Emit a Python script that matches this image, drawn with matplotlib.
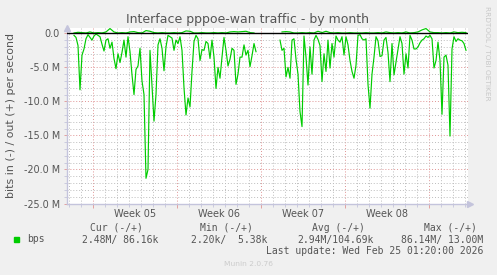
import numpy as np
import matplotlib
matplotlib.use("Agg")
import matplotlib.pyplot as plt
from matplotlib.ticker import MultipleLocator, FixedLocator
from matplotlib.patches import Rectangle
import matplotlib.transforms as mtrans

# traffic samples in Mbit/s, download shown negative (in), upload positive (out)
# one sample every 4 hours, starting shortly after the left edge of the graph
dl_start_day = 7 / 12
dl_step_day = 1 / 6
download = [
    -0.3, -0.6, -1.8, -8.3, -3.2, -2.3, -0.8, -0.2, -0.6, -1.0,
    -0.4, -0.1, -0.3, -0.5, -1.6, -2.6, -1.0, -0.8, -2.2, -1.3,
    -3.7, -5.2, -3.0, -4.3, -2.8, -1.0, -3.5, -0.5, -2.7, -6.1,
    -9.0, -5.3, -4.8, -2.2, -7.0, -9.0, -21.3, -20.0, -2.5, -7.6,
    -12.9, -9.0, -1.7, -0.8, -2.2, -5.5, -2.0, -0.3, -0.5, -0.7,
    -2.5, -1.0, -1.5, -0.5, -2.5, -8.0, -12.0, -9.5, -10.8, -5.6,
    -1.2, -0.3, -0.8, -4.0, -2.4, -2.5, -1.2, -1.5, -3.7, -1.0,
    -3.5, -8.1, -5.0, -6.6, -3.5, -0.6, -2.5, -4.8, -3.8, -2.2,
    -2.5, -7.5, -6.0, -3.5, -3.5, -1.7, -3.2, -2.5, -4.9, -3.3,
    -1.5, -2.7, np.nan, np.nan, np.nan, np.nan, np.nan, np.nan, np.nan, np.nan,
    np.nan, np.nan, np.nan, -1.0, -2.5, -2.2, -6.4, -5.0, -6.6, -1.0,
    -0.8, -3.8, -6.0, -11.5, -13.7, -0.4, -3.5, -7.6, -2.0, -6.0,
    -1.0, -0.3, -0.9, -1.8, -7.1, -3.0, -5.6, -1.0, -5.1, -1.5,
    -3.5, -0.4, -1.0, -1.3, -0.5, -3.2, -0.5, -1.7, -4.0, -5.6,
    -6.6, -4.7, -0.3, -0.2, -0.8, -1.0, -0.8, -7.5, -11.0, -6.0,
    -3.5, -0.5, -1.1, -3.4, -3.3, -1.0, -0.6, -2.8, -7.1, -1.5,
    -6.1, -4.2, -2.2, -0.5, -1.5, -6.0, -3.0, -5.1, -0.3, -1.0,
    -2.3, -2.3, -2.0, -1.4, -1.0, -0.8, -0.4, -0.6, -0.3, -0.8,
    -5.1, -4.0, -1.3, -4.0, -11.9, -3.5, -3.2, -4.7, -15.1, -2.3,
    -0.5, -1.2, -0.8, -1.0, -1.1, -1.5, -2.5,
]

# upload, one sample every 8 hours
ul_start_day = 7 / 12
ul_step_day = 1 / 3
upload = [
    0.05, 0.15, 0.1, 0.05, 0.2, 0.05, 0.1, 0.05, 0.2, 0.7,
    0.2, 0.05, 0.1, 0.05, 0.2, 0.25, 0.1, 0.05, 0.4, 0.3,
    0.1, 0.05, 0.1, 0.05, 0.05, 0.1, 0.05, 0.1, 0.35, 0.3,
    0.05, 0.05, 0.1, 0.05, 0.05, 0.1, 0.05, 0.1, 0.05, 0.2,
    0.25, 0.2, 0.25, 0.3, 0.1, 0.05, np.nan, np.nan, np.nan, np.nan,
    np.nan, np.nan, 0.2, 0.25, 0.2, 0.05, 0.05, 0.1, 0.05, 0.1,
    0.05, 0.3, 0.1, 0.3, 0.1, 0.05, 0.1, 0.05, 0.05, 0.1,
    0.05, 0.05, 0.05, 0.1, 0.05, 0.05, 0.1, 0.05, 0.2, 0.1,
    0.05, 0.1, 0.05, 0.2, 0.05, 0.1, 0.2, 0.5, 0.7, 0.2,
    0.1, 0.1, 0.05, 0.1, 0.05, 0.2, 0.1, 0.15, 0.1,
]

week_labels = ["Week 05", "Week 06", "Week 07", "Week 08"]
first_week_day = 26 / 12  # first week boundary, days from left edge

legend_headers = ["Cur (-/+)", "Min (-/+)", "Avg (-/+)", "Max (-/+)"]
legend_values = ["2.48M/ 86.16k", "2.20k/  5.38k", "2.94M/104.69k", "86.14M/ 13.00M"]
last_update = "Last update: Wed Feb 25 01:20:00 2026"

GREEN = "#00cc00"
TEXT = "#555555"
AXIS = "#c4c4dc"

W, H = 497, 275
fig = plt.figure(figsize=(W / 100, H / 100), dpi=100, facecolor="#f0f0f0")
ax = fig.add_axes([67 / W, 1 - 203.5 / H, 400.5 / W, 175.5 / H])
ax.set_facecolor("white")

x_dl = dl_start_day + dl_step_day * np.arange(len(download))
x_ul = ul_start_day + ul_step_day * np.arange(len(upload))

ax.set_xlim(0, 400.5 / 12)
ax.set_ylim(-25, 0.78)

# grid
ax.xaxis.set_major_locator(MultipleLocator(7, offset=first_week_day))
ax.xaxis.set_minor_locator(MultipleLocator(1, offset=first_week_day % 1))
ax.yaxis.set_major_locator(FixedLocator([0, -5, -10, -15, -20, -25]))
ax.yaxis.set_minor_locator(MultipleLocator(1))
ax.grid(which="minor", color="#bdbdbd", linestyle=(0, (1, 2)), linewidth=0.7)
ax.grid(which="major", color="#e09494", linestyle=(0, (1, 2)), linewidth=0.7)
ax.set_axisbelow(True)

ax.plot(x_dl, np.array(download), color=GREEN, lw=0.85, zorder=3)
ax.plot(x_ul, np.array(upload), color=GREEN, lw=0.85, zorder=3)
ax.axhline(0, color="black", lw=1.0, zorder=4)

# axes styling
for s in ("top", "right"):
    ax.spines[s].set_visible(False)
for s in ("left", "bottom"):
    ax.spines[s].set_color(AXIS)
    ax.spines[s].set_linewidth(1.0)
ax.tick_params(which="both", colors=AXIS, length=2, width=0.6, direction="out")
ax.tick_params(axis="x", which="major", length=3, color="#e09494")
ax.tick_params(axis="y", which="major", color="#e09494")
ax.set_xticklabels([])
ax.set_yticklabels(["0.0", "-5.0 M", "-10.0 M", "-15.0 M", "-20.0 M", "-25.0 M"],
                   fontsize=6.9, color=TEXT)
ax.tick_params(axis="y", pad=3)

# axis arrows
ax.plot([0], [1.0], marker="^", color=AXIS, markersize=4, transform=ax.transAxes,
        clip_on=False, zorder=5)
ax.plot([1.005], [0], marker=">", color=AXIS, markersize=4, transform=ax.transAxes,
        clip_on=False, zorder=5)

# week labels
blend = mtrans.blended_transform_factory(ax.transData, ax.transAxes)
for i, lab in enumerate(week_labels):
    ax.text(first_week_day + 7 * i + 3.5, -0.06, lab, transform=blend,
            ha="center", va="center", fontsize=7, color=TEXT)

fig.text(248 / W, 1 - 19 / H, "Interface pppoe-wan traffic - by month",
         ha="center", va="center", fontsize=9, color=TEXT)
fig.text(11 / W, 1 - 116 / H, "bits in (-) / out (+) per second",
         rotation=90, ha="center", va="center", fontsize=7.9, color=TEXT)
fig.text(487 / W, 1 - 53 / H, "RRDTOOL / TOBI OETIKER", rotation=270,
         ha="center", va="center", fontsize=5.3, color="#c8c8c8")

# legend block
mono = "DejaVu Sans Mono"
fig.patches.append(Rectangle((14 / W, 1 - 242 / H), 5 / W, 5 / H,
                             transform=fig.transFigure, color=GREEN))
fig.text(27 / W, 1 - 239.5 / H, "bps", ha="left", va="center",
         fontsize=7, family=mono, color=TEXT)
header_right = [143, 253, 365, 477]
value_right = [158, 267, 374, 483]
for hx, h in zip(header_right, legend_headers):
    fig.text(hx / W, 1 - 227.7 / H, h, ha="right", va="center",
             fontsize=7, family=mono, color=TEXT)
for vx, v in zip(value_right, legend_values):
    fig.text(vx / W, 1 - 239.5 / H, v, ha="right", va="center",
             fontsize=7, family=mono, color=TEXT)
fig.text(483 / W, 1 - 251 / H, last_update, ha="right", va="center",
         fontsize=7, family=mono, color=TEXT)
fig.text(248 / W, 1 - 264 / H, "Munin 2.0.76", ha="center", va="center",
         fontsize=5.4, color="#cccccc")

fig.savefig("out.png", dpi=100, facecolor=fig.get_facecolor())
